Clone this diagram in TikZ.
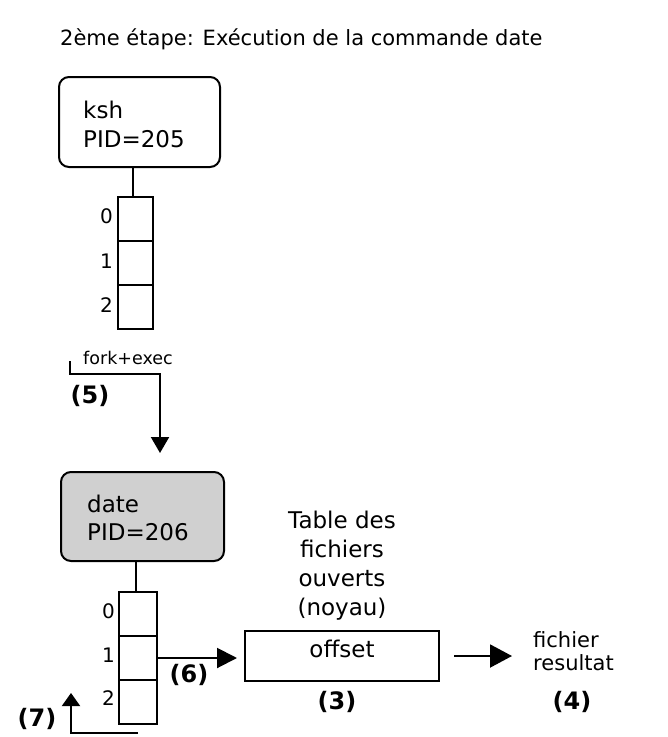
\documentclass[tikz,border=0pt]{standalone}
\usepackage{fontspec}
\setmainfont{DejaVu Sans}
\usetikzlibrary{arrows.meta}
\definecolor{boxgray}{RGB}{208,208,208}
\begin{document}
\begin{tikzpicture}[x=1pt,y=-1pt,
  conn/.style={line width=2pt},
  arr/.style={line width=2pt,-{Triangle[length=16pt,width=18pt]}},
  proc/.style={draw,line width=2pt,rounded corners=10pt,anchor=north west,inner sep=0pt},
  cell/.style={draw,line width=2pt,minimum width=35pt,minimum height=44pt,inner sep=0pt,anchor=north west},
  txt/.style={inner sep=0pt,anchor=base west},
  big/.style={font=\fontsize{23}{29}\selectfont},
  mid/.style={font=\fontsize{21}{23}\selectfont},
  idx/.style={inner sep=0pt,anchor=base east,font=\fontsize{20}{24}\selectfont},
  tag/.style={inner sep=0pt,font=\fontsize{24}{26}\selectfont\bfseries}
]
\useasboundingbox (0,0) rectangle (668,737);

% title
\node[txt,mid] (title) at (60,45) {2ème étape: Exécution de la commande date};

% ksh process
\node[proc,minimum width=161pt,minimum height=90pt] (ksh) at (58,76) {};
\node[txt,big] (kshname) at (83,118) {ksh};
\node[txt,big] (kshpid) at (83,147) {PID=205};

% ksh descriptor table
\node[cell] (a0) at (117,196) {};
\node[cell] (a1) at (117,240) {};
\node[cell] (a2) at (117,284) {};
\node[idx] (la0) at (113,223) {0};
\node[idx] (la1) at (113,268) {1};
\node[idx] (la2) at (113,312) {2};
\draw[conn] ([xshift=-2.5pt]a0.north) -- ([xshift=-2.5pt]a0.north |- ksh.south);

% fork + exec
\node[txt,font=\fontsize{17.5}{20}\selectfont] (fork) at (83,364) {fork+exec};
\node[tag] (t5) at (90,396) {(5)};
\coordinate (fstart) at (70,361);
\coordinate (fend) at (160,453);
\draw[arr] (fstart) -- ++(0,13) -| (fend);

% date process
\node[proc,fill=boxgray,minimum width=163pt,minimum height=89pt] (date) at (60,471) {};
\node[txt,big] (datename) at (87,512) {date};
\node[txt,big] (datepid) at (87,540) {PID=206};

% date descriptor table
\node[cell,minimum width=38pt] (b0) at (118,591) {};
\node[cell,minimum width=38pt] (b1) at (118,635) {};
\node[cell,minimum width=38pt] (b2) at (118,679) {};
\node[idx] (lb0) at (115,618) {0};
\node[idx] (lb1) at (115,662) {1};
\node[idx] (lb2) at (115,705) {2};
\draw[conn] ([xshift=-2pt]b0.north) -- ([xshift=-2pt]b0.north |- date.south);

% open file table
\node[big,inner sep=0pt,anchor=north,align=center] (tabletitle) at (342,510.5) {Table des\\fichiers\\ouverts\\(noyau)};
\node[draw,line width=2pt,minimum width=194pt,minimum height=50pt,inner sep=0pt,anchor=north west] (off) at (244,630) {};
\node[big,inner sep=0pt,anchor=base] (offtxt) at (342,657) {offset};
\node[tag] (t3) at (337,702) {(3)};

% result file
\node[mid,inner sep=0pt,anchor=north west,align=left] (res) at (533,631) {fichier\\resultat};
\node[tag] (t4) at (572,702) {(4)};

% arrows
\draw[arr,-{Triangle[length=20pt,width=20pt]},shorten >=7pt] (b1.east) -- (b1.east -| off.west);
\node[tag] (t6) at (189,675) {(6)};
\draw[arr,-{Triangle[length=22pt,width=23pt]},shorten <=14pt,shorten >=21pt] (off.east) -- (off.east -| res.west);

\coordinate (r7) at (138,733);
\coordinate (e7) at (71,693);
\draw[arr,-{Triangle[length=13pt,width=18pt]}] (r7) -| (e7);
\node[tag] (t7) at (37,719) {(7)};
\end{tikzpicture}
\end{document}
